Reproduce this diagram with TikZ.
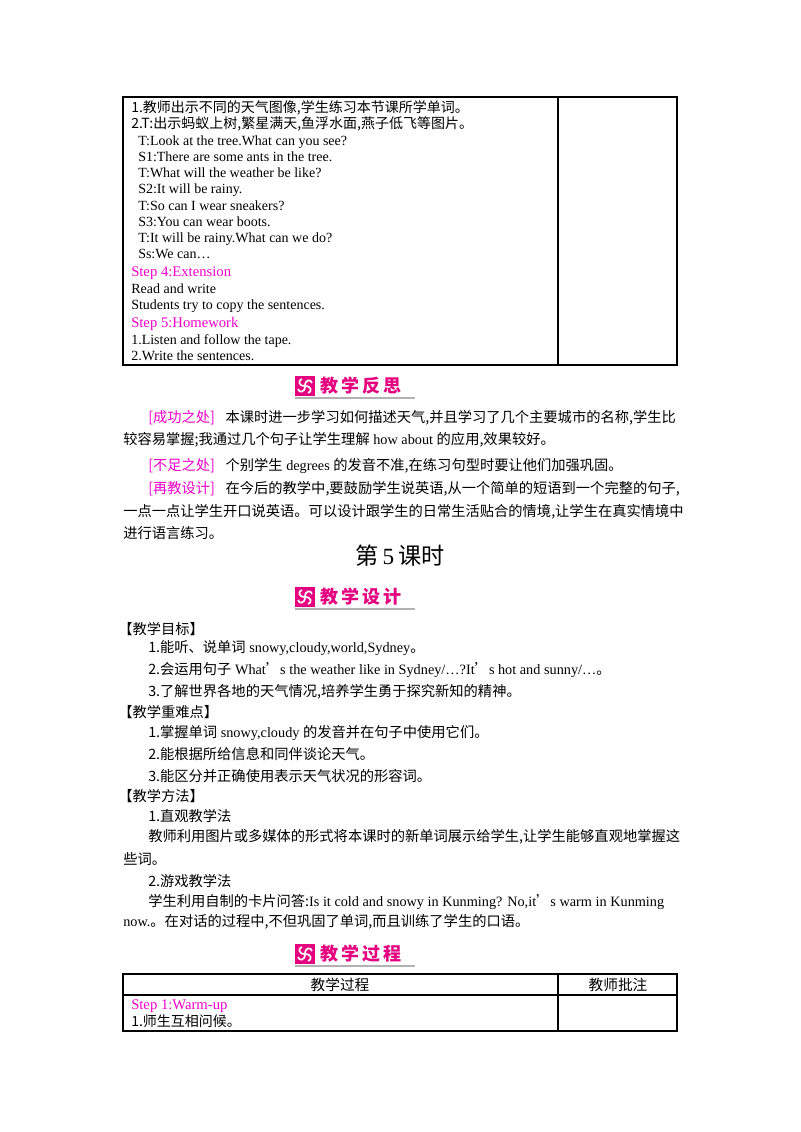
\documentclass[tikz,border=0pt]{standalone}
\usepackage{fontspec}
\setmainfont{Liberation Serif}
\newfontfamily\cjk{Noto Sans CJK SC}
\newcommand{\C}[1]{{\cjk #1}}
\definecolor{mag}{RGB}{228,0,127}
\definecolor{stp}{RGB}{240,0,200}
\begin{document}
\begin{tikzpicture}[x=0.75pt,y=-0.75pt,
 t/.style={anchor=base west,inner sep=0,font=\fontsize{10.5}{11}\selectfont},
 b/.style={anchor=base west,inner sep=0,font=\fontsize{10.7}{12}\selectfont},
 st/.style={t,text=stp,font=\fontsize{11}{12}\selectfont},
 ln/.style={line width=0.8pt},
 hd/.style={anchor=west,inner sep=0,text=mag,font=\fontsize{13.5}{14}\cjk\bfseries}]
\useasboundingbox (0,0) rectangle (800,1132);
% table 1
\draw[ln] (123,97) rectangle (677,365);
\draw[ln] (558,97) -- (558,365);
\node[t] (l1) at (131,112) {\C{1.教师出示不同的天气图像,学生练习本节课所学单词。}};
\node[t] (l2) at (131,128) {\C{2.T:出示蚂蚁上树,繁星满天,鱼浮水面,燕子低飞等图片。}};
\node[t] (l3) at (138,145) {T:Look at the tree.What can you see?};
\node[t] (l4) at (138,161) {S1:There are some ants in the tree.};
\node[t] (l5) at (138,177) {T:What will the weather be like?};
\node[t] (l6) at (138,193) {S2:It will be rainy.};
\node[t] (l7) at (138,210) {T:So can I wear sneakers?};
\node[t] (l8) at (138,226) {S3:You can wear boots.};
\node[t] (l9) at (138,242) {T:It will be rainy.What can we do?};
\node[t] (l10) at (138,258) {Ss:We can\ldots};
\node[st] (s4) at (131,276) {Step 4:Extension};
\node[t] (l11) at (131,293) {Read and write};
\node[t] (l12) at (131,309) {Students try to copy the sentences.};
\node[st] (s5) at (131,327) {Step 5:Homework};
\node[t] (l13) at (131,344) {1.Listen and follow the tape.};
\node[t] (l14) at (131,360) {2.Write the sentences.};
% heading 1
\fill[mag] (295,376) rectangle (315,396);
\foreach \a in {0,90,180,270}{\draw[white,line width=1.3pt,rotate around={\a:(305,386)}] (305,386) .. controls (305,379) and (311,379) .. (312,383);}
\node[hd] (h1) at (320,386) {教\,学\,反\,思};
\draw[gray!60,line width=0.8pt] (295,398) -- (415,398);
% reflection
\node[b] (p1) at (148,422) {\C{\textcolor{stp}{[成功之处]}\hspace{8pt}本课时进一步学习如何描述天气,并且学习了几个主要城市的名称,学生比}};
\node[b] (p2) at (123,444) {\C{较容易掌握;我通过几个句子让学生理解}~how about~\C{的应用,效果较好。}};
\node[b] (p3) at (148,470) {\C{\textcolor{stp}{[不足之处]}\hspace{8pt}个别学生}~degrees~\C{的发音不准,在练习句型时要让他们加强巩固。}};
\node[b] (p4) at (148,493) {\C{\textcolor{stp}{[再教设计]}\hspace{8pt}在今后的教学中,要鼓励学生说英语,从一个简单的短语到一个完整的句子,}};
\node[b] (p5) at (123,516) {\C{一点一点让学生开口说英语。可以设计跟学生的日常生活贴合的情境,让学生在真实情境中}};
\node[b] (p6) at (123,538) {\C{进行语言练习。}};
\node[anchor=center,inner sep=0,font=\fontsize{17.4}{19}\selectfont] (ks) at (400,556) {\C{第}\,5\,\C{课时}};
% heading 2
\fill[mag] (295,587) rectangle (315,607);
\foreach \a in {0,90,180,270}{\draw[white,line width=1.3pt,rotate around={\a:(305,597)}] (305,597) .. controls (305,590) and (311,590) .. (312,594);}
\node[hd] (h2) at (320,597) {教\,学\,设\,计};
\draw[gray!60,line width=0.8pt] (295,609) -- (415,609);
\node[b] (m1) at (118,634) {\C{【教学目标】}};
\node[b] (m2) at (148,652) {\C{1.能听、说单词}~snowy,cloudy,world,Sydney\C{。}};
\node[b] (m3) at (148,674) {\C{2.会运用句子}~What\C{’}s the weather like in Sydney/\ldots?It\C{’}s hot and sunny/\ldots\C{。}};
\node[b] (m4) at (148,696) {\C{3.了解世界各地的天气情况,培养学生勇于探究新知的精神。}};
\node[b] (m5) at (118,717) {\C{【教学重难点】}};
\node[b] (m6) at (148,737) {\C{1.掌握单词}~snowy,cloudy~\C{的发音并在句子中使用它们。}};
\node[b] (m7) at (148,759) {\C{2.能根据所给信息和同伴谈论天气。}};
\node[b] (m8) at (148,781) {\C{3.能区分并正确使用表示天气状况的形容词。}};
\node[b] (m9) at (118,801) {\C{【教学方法】}};
\node[b] (m10) at (148,821) {\C{1.直观教学法}};
\node[b] (m11) at (148,841) {\C{教师利用图片或多媒体的形式将本课时的新单词展示给学生,让学生能够直观地掌握这}};
\node[b] (m12) at (123,864) {\C{些词。}};
\node[b] (m13) at (148,886) {\C{2.游戏教学法}};
\node[b] (m14) at (148,906) {\C{学生利用自制的卡片问答:}Is it cold and snowy in Kunming? No,it\C{’}s warm in Kunming};
\node[b] (m15) at (123,926) {now.\C{。在对话的过程中,不但巩固了单词,而且训练了学生的口语。}};
% heading 3
\fill[mag] (295,944) rectangle (315,964);
\foreach \a in {0,90,180,270}{\draw[white,line width=1.3pt,rotate around={\a:(305,954)}] (305,954) .. controls (305,947) and (311,947) .. (312,951);}
\node[hd] (h3) at (320,954) {教\,学\,过\,程};
\draw[gray!60,line width=0.8pt] (295,966) -- (415,966);
% table 2
\draw[ln] (123,974) rectangle (677,1031);
\draw[ln] (123,995) -- (677,995);
\draw[ln] (558,974) -- (558,1031);
\node[anchor=center,inner sep=0,font=\fontsize{11}{12}\cjk] (th1) at (340,985) {教学过程};
\node[anchor=center,inner sep=0,font=\fontsize{11}{12}\cjk] (th2) at (618,985) {教师批注};
\node[st] (s1) at (131,1009) {Step 1:Warm-up};
\node[t] (w1) at (131,1026) {\C{1.师生互相问候。}};
\end{tikzpicture}
\end{document}
